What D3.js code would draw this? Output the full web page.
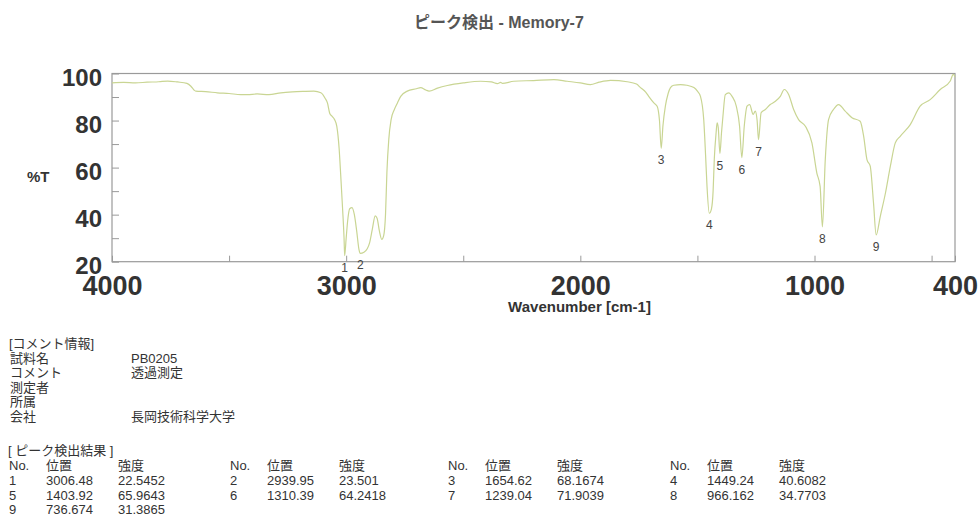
<!DOCTYPE html>
<html>
<head>
<meta charset="utf-8">
<script src="https://cdn.jsdelivr.net/npm/d3@7"></script>
<style>
  body { margin: 0; background: #fff; }
  svg { display: block; }
  text { font-family: "Liberation Sans", Arial, "Noto Sans CJK JP", sans-serif; }
</style>
</head>
<body>
<svg id="chart" width="979" height="516"></svg>
<script>
// ---- data ----
const titleText = "ピーク検出 - Memory-7";
const xTickValues = [4000, 3500, 3000, 2500, 2000, 1500, 1000, 500, 400];
const xTickLabels = [4000, 3000, 2000, 1000, 400];
const yTickValues = [20, 30, 40, 50, 60, 70, 80, 90, 100];
const yTickLabels = [20, 40, 60, 80, 100];

const wavenumber = [4000,3950,3900,3850,3800,3762,3720,3680,3663,3650,3642,3600,3550,3500,3450,3421,3380,3330,3279,3230,3180,3138,3108,3090,3080,3070,3060,3050,3040,3030,3023,3015,3009,3006.48,3000,2994,2985,2975,2965,2955,2945,2939.95,2924,2910,2900,2888,2876,2868,2858,2848,2840,2832,2826,2818,2808,2795,2781,2767,2739,2700,2682,2660,2646,2610,2568,2500,2426,2380,2354,2340,2333,2284,2200,2113,2056,2000,1957,1920,1871,1800,1760,1743,1720,1708,1686,1672,1662,1654.62,1647,1637,1625,1615,1601,1572,1545,1515,1500,1487,1473,1465,1459,1449.24,1440,1433,1428,1420,1416,1411,1403.92,1397,1391,1381,1366,1352,1334,1320,1310.39,1300,1288,1277,1262,1253,1245,1239.04,1228,1210,1189,1167,1146,1129,1110,1089,1068,1039,1011,990,976,966.162,954,940,919,897,869,840,805,790,776,762,748,736.674,719,697,676,655,634,591,549,506,463,421,407,400];
const transmittance = [96.0,96.2,96.0,96.3,96.5,96.8,96.4,95.8,94.6,93.0,92.5,92.3,91.8,91.5,91.0,91.0,91.3,91.0,91.8,92.2,92.4,92.5,91.8,89.5,87.5,83.0,81.8,80.5,77.5,68.0,56.3,42.0,30.0,22.55,30.0,37.0,42.5,43.0,40.0,33.0,25.0,23.5,24.0,25.5,28.0,34.0,39.5,38.5,33.0,29.5,31.0,40.0,58.0,72.0,80.4,84.5,87.5,90.3,92.5,93.5,94.0,93.0,92.5,93.8,94.9,96.0,96.7,96.4,95.7,96.2,95.8,96.7,97.0,97.4,96.7,96.0,95.3,96.3,97.1,96.5,95.5,94.0,92.0,90.3,87.5,86.1,80.0,68.17,78.0,86.0,91.5,94.0,95.0,95.3,95.0,94.0,92.5,90.3,80.4,65.0,52.0,40.6,42.5,50.0,63.4,75.0,79.0,77.0,65.96,75.0,81.8,91.0,91.8,90.3,86.1,77.6,64.24,77.6,86.1,86.8,82.6,84.0,80.0,71.9,83.3,84.7,86.8,88.2,90.3,93.2,91.0,84.7,80.4,77.6,70.5,57.7,52.0,34.77,63.4,80.4,84.7,86.8,84.0,81.2,79.7,73.3,63.4,60.6,45.0,31.39,39.3,49.2,60.6,70.5,73.3,78.3,86.1,88.9,93.2,96.7,99.6,98.5];

const peakNo  = [1, 2, 3, 4, 5, 6, 7, 8, 9];
const peakPos = [3006.48, 2939.95, 1654.62, 1449.24, 1403.92, 1310.39, 1239.04, 966.162, 736.674];
const peakInt = [22.5452, 23.501, 68.1674, 40.6082, 65.9643, 64.2418, 71.9039, 34.7703, 31.3865];

const commentKeys   = ["試料名", "コメント", "測定者", "所属", "会社"];
const commentValues = ["PB0205", "透過測定", "", "", "長岡技術科学大学"];
const tableHeaders  = ["No.", "位置", "強度"];

// ---- layout ----
const svg = d3.select("#chart");
const x = d3.scaleLinear().domain([4000, 400]).range([112, 955]);
const y = d3.scaleLinear().domain([20, 100]).range([261.7, 73.5]);

// title
svg.append("text").attr("x", 414).attr("y", 28)
  .attr("font-size", 16).attr("font-weight", "bold").attr("fill", "#555")
  .text(titleText);

// frame
svg.append("rect")
  .attr("x", x(4000)).attr("y", y(100))
  .attr("width", x(400) - x(4000)).attr("height", y(20) - y(100))
  .attr("fill", "none").attr("stroke", "#9a9a9a").attr("stroke-width", 1.2);

// y axis
const yAxis = svg.append("g").attr("transform", `translate(${x(4000)},0)`)
  .call(d3.axisLeft(y).tickValues(yTickValues).tickSize(-7).tickPadding(10)
    .tickFormat(d => yTickLabels.includes(d) ? d : ""));
yAxis.select(".domain").remove();
yAxis.selectAll("line").attr("stroke", "#9a9a9a");
yAxis.selectAll("text").attr("font-size", 24).attr("font-weight", "bold")
  .attr("fill", "#333").attr("dy", "0.48em")
  .style("font-family", '"Liberation Sans", Arial, sans-serif');

// x axis
const xAxis = svg.append("g").attr("transform", `translate(0,${y(20)})`)
  .call(d3.axisBottom(x).tickValues(xTickValues).tickSize(-6).tickPadding(14)
    .tickFormat(d => xTickLabels.includes(d) ? d : ""));
xAxis.select(".domain").remove();
xAxis.selectAll("line").attr("stroke", "#9a9a9a");
xAxis.selectAll("text").attr("font-size", 27).attr("font-weight", "bold")
  .attr("fill", "#333")
  .style("font-family", '"Liberation Sans", Arial, sans-serif');

// axis titles
svg.append("text").attr("x", (x(4000) + x(400)) / 2 + 46).attr("y", 312)
  .attr("text-anchor", "middle").attr("font-size", 15).attr("font-weight", "bold")
  .attr("fill", "#333").text("Wavenumber [cm-1]");
svg.append("text").attr("x", 27).attr("y", 182)
  .attr("font-size", 15).attr("font-weight", "bold").attr("fill", "#333").text("%T");

// spectrum
const pts = wavenumber.map((w, i) => [w, transmittance[i]]);
svg.append("path").datum(pts)
  .attr("d", d3.line().x(d => x(d[0])).y(d => y(d[1])).curve(d3.curveMonotoneX))
  .attr("fill", "none").attr("stroke", "#c9d593").attr("stroke-width", 1.2);

// peak labels
svg.append("g").selectAll("text").data(peakNo).join("text")
  .attr("x", (d, i) => x(peakPos[i])).attr("y", (d, i) => y(peakInt[i]) + 16)
  .attr("text-anchor", "middle").attr("font-size", 12).attr("fill", "#444")
  .text(d => d);

// comment info
const info = svg.append("g").attr("font-size", 13).attr("fill", "#333");
info.append("text").attr("x", 9).attr("y", 348).text("[コメント情報]");
commentKeys.forEach((k, i) => {
  const by = 362.5 + i * 14.6;
  info.append("text").attr("x", 10).attr("y", by).text(k);
  if (commentValues[i]) info.append("text").attr("x", 131).attr("y", by).text(commentValues[i]);
});

// peak table
const tbl = svg.append("g").attr("font-size", 13).attr("fill", "#333");
tbl.append("text").attr("x", 8).attr("y", 455).text("[ ピーク検出結果 ]");
const groupX = [9, 230, 448, 670];
const colOff = [0, 37, 109];
groupX.forEach(gx => {
  tableHeaders.forEach((h, j) => {
    tbl.append("text").attr("x", gx + colOff[j]).attr("y", 470).text(h);
  });
});
peakNo.forEach((n, i) => {
  const gx = groupX[i % 4];
  const by = 485 + Math.floor(i / 4) * 14.6;
  [n, peakPos[i], peakInt[i]].forEach((v, j) => {
    tbl.append("text").attr("x", gx + colOff[j]).attr("y", by).text(String(v));
  });
});
</script>
</body>
</html>
